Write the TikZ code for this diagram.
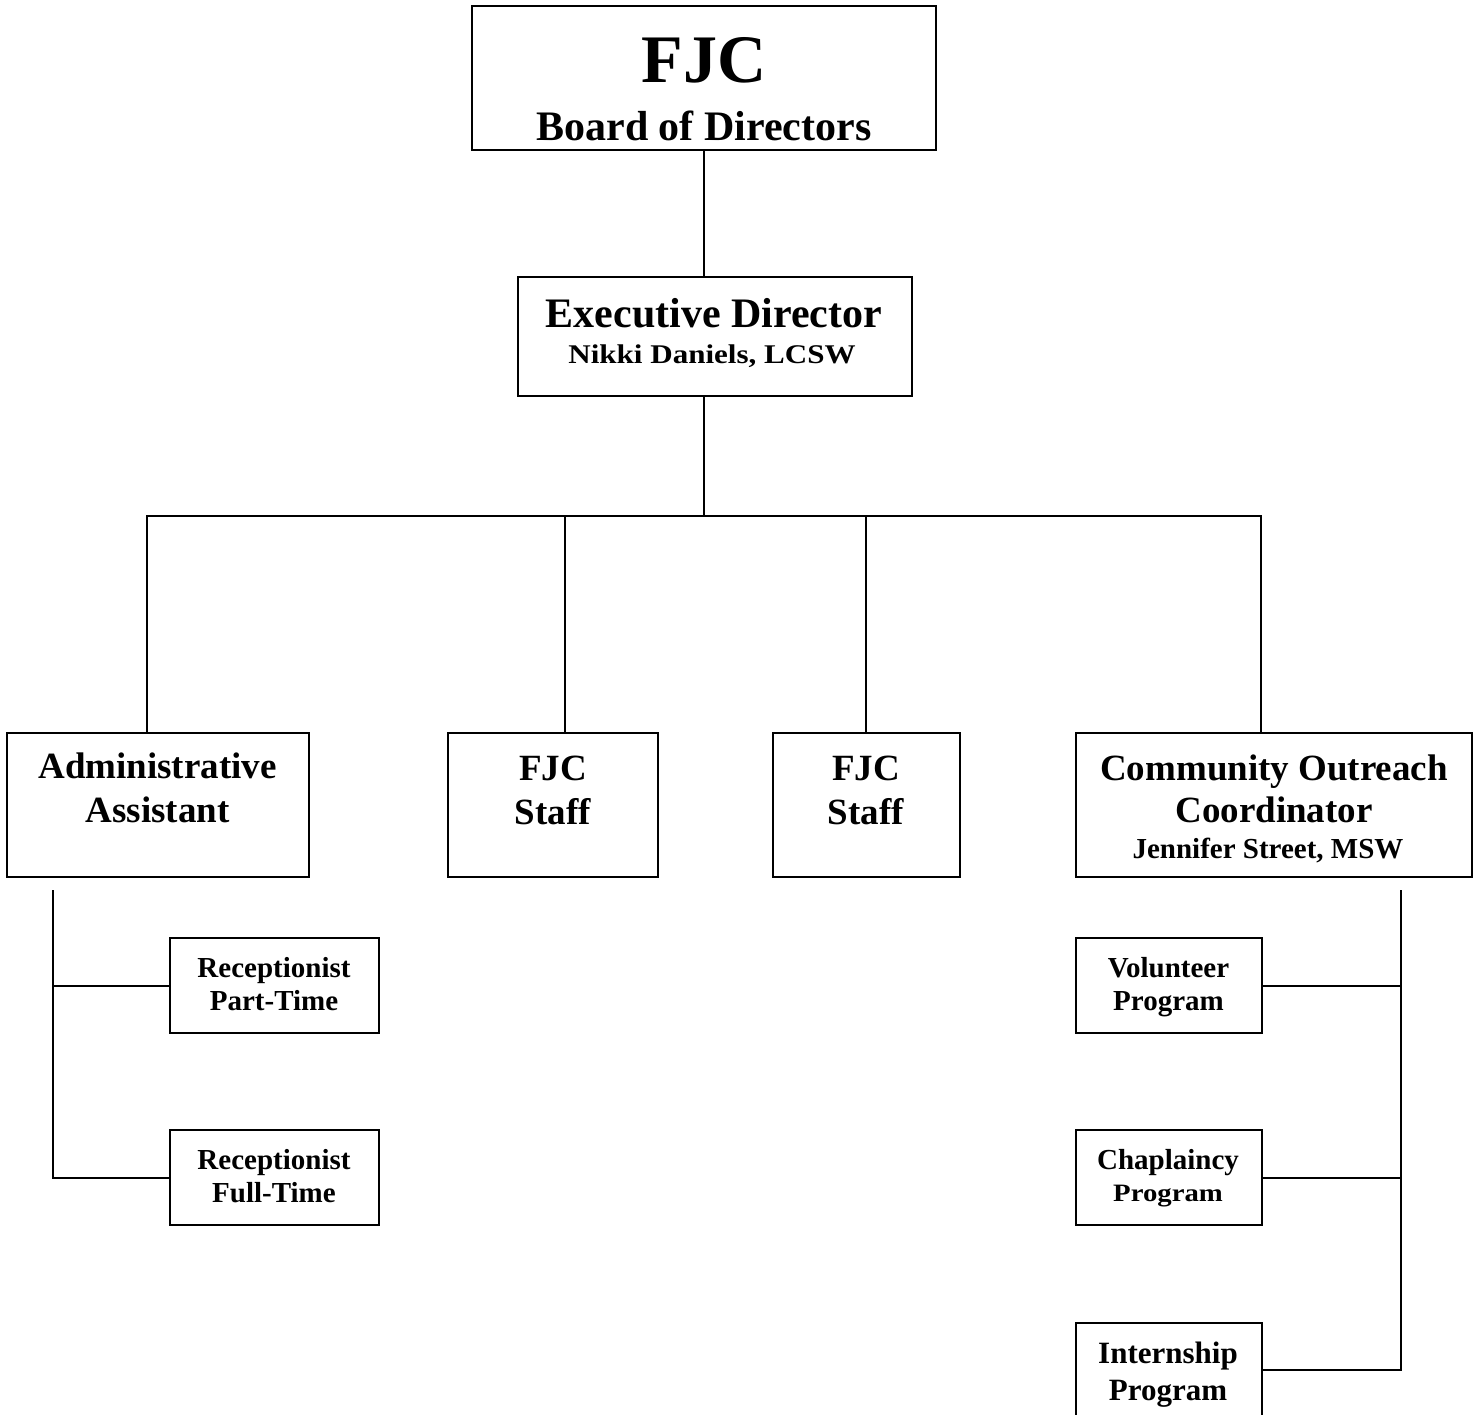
\documentclass[tikz,border=0pt]{standalone}
\usepackage{fontspec}
\setmainfont{Liberation Serif}
\newfontfamily\nikkifont{Liberation Serif}[FakeStretch=1.15]
\newcommand{\fsz}[1]{\fontsize{#1}{#1}\selectfont\bfseries}
\begin{document}
\begin{tikzpicture}[x=1pt,y=-1pt,
  box/.style={draw, line width=2pt, rectangle, inner sep=0pt},
  txt/.style={anchor=base, inner sep=0pt, text=black},
  conn/.style={line width=2pt}]
\clip (0,0) rectangle (1478,1414);
\fill[white] (0,0) rectangle (1478,1414);
% boxes
\node[box, minimum width=464pt, minimum height=144pt] (board) at (704,78) {};
\node[box, minimum width=394pt, minimum height=119pt] (exec) at (715,336.5) {};
\node[box, minimum width=302pt, minimum height=144pt] (admin) at (158,805) {};
\node[box, minimum width=210pt, minimum height=144pt] (staffa) at (553,805) {};
\node[box, minimum width=187pt, minimum height=144pt] (staffb) at (866.5,805) {};
\node[box, minimum width=396pt, minimum height=144pt] (coc) at (1274,805) {};
\node[box, minimum width=209pt, minimum height=95pt] (rpt) at (274.5,985.5) {};
\node[box, minimum width=209pt, minimum height=95pt] (rft) at (274.5,1177.5) {};
\node[box, minimum width=186pt, minimum height=95pt] (vol) at (1169,985.5) {};
\node[box, minimum width=186pt, minimum height=95pt] (chap) at (1169,1177.5) {};
\node[box, minimum width=186pt, minimum height=94pt] (intern) at (1169,1370) {};
% texts
\node[txt, font=\fsz{68}] (t1) at (704,82) {FJC};
\node[txt, font=\fsz{42}] (t2) at (704,140) {Board of Directors};
\node[txt, font=\fsz{42}] (t3) at (714,327) {Executive Director};
\node[txt, font=\nikkifont\fsz{27}] (t4) at (712,363) {Nikki Daniels, LCSW};
\node[txt, font=\fsz{37}] (t5) at (157.5,778) {Administrative};
\node[txt, font=\fsz{37}] (t6) at (157.5,822) {Assistant};
\node[txt, font=\fsz{37}] (t7) at (553,780) {FJC};
\node[txt, font=\fsz{37}] (t8) at (553,824) {Staff};
\node[txt, font=\fsz{37}] (t9) at (866,780) {FJC};
\node[txt, font=\fsz{37}] (t10) at (866,824) {Staff};
\node[txt, font=\fsz{37}] (t11) at (1274,780) {Community Outreach};
\node[txt, font=\fsz{37}] (t12) at (1274,822) {Coordinator};
\node[txt, font=\fsz{29}] (t13) at (1268,858) {Jennifer Street, MSW};
\node[txt, font=\fsz{29}] (t14) at (274,977) {Receptionist};
\node[txt, font=\fsz{29}] (t15) at (274,1010) {Part-Time};
\node[txt, font=\fsz{29}] (t16) at (274,1169) {Receptionist};
\node[txt, font=\fsz{29}] (t17) at (274,1202) {Full-Time};
\node[txt, font=\fsz{29}] (t18) at (1168.5,977) {Volunteer};
\node[txt, font=\fsz{29}] (t19) at (1168.5,1010) {Program};
\node[txt, font=\fsz{29}] (t20) at (1168,1169) {Chaplaincy};
\node[txt, font=\nikkifont\fsz{25}] (t21) at (1168,1201) {Program};
\node[txt, font=\fsz{31}] (t22) at (1168,1363) {Internship};
\node[txt, font=\fsz{31}] (t23) at (1168,1400) {Program};
% connector coordinates
\coordinate (hub) at (704,516);
\coordinate (d1) at (147,516);
\coordinate (d2) at (565,516);
\coordinate (d3) at (866,516);
\coordinate (d4) at (1261,516);
\coordinate (as) at (53,890);
\coordinate (cs) at (1401,890);
% connectors
\draw[conn] (board.south) -- (board.south |- exec.north);
\draw[conn] (hub |- exec.south) -- (hub);
\draw[conn] (d1 |- admin.north) -- (d1) -- (d4) -- (d4 |- coc.north);
\draw[conn] (d2) -- (d2 |- staffa.north);
\draw[conn] (d3) -- (d3 |- staffb.north);
\draw[conn] (as) |- (rft.west);
\draw[conn] (as |- rpt.west) -- (rpt.west);
\draw[conn] (cs) |- (intern.east);
\draw[conn] (cs |- vol.east) -- (vol.east);
\draw[conn] (cs |- chap.east) -- (chap.east);
\end{tikzpicture}
\end{document}
